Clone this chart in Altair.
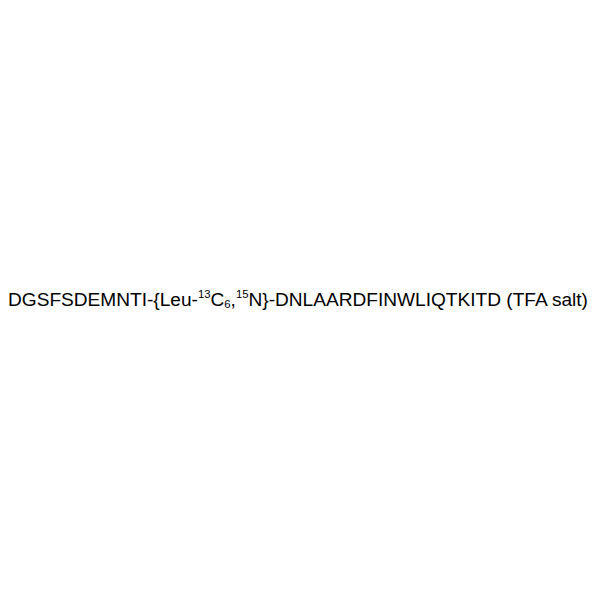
import altair as alt
import pandas as pd

# Text segments of the label: (text, role) where role is main / sup / sub
segments = ["DGSFSDEMNTI-{Leu-", "13", "C", "6", ",", "15", "N}-DNLAARDFINWLIQTKITD (TFA salt)"]
roles = ["main", "sup", "main", "sub", "main", "sup", "main"]

MAIN_SIZE = 19.1
SMALL_SIZE = 11.3
BASELINE = 305.7 - 8          # page y -> chart y
SHIFT = {"main": 0.0, "sup": -7.5, "sub": 2.0}
START_X = 0.0

# Arial / Liberation Sans advance widths (per 1000 em)
W = {"D": 722, "G": 778, "S": 667, "F": 611, "E": 667, "M": 833, "N": 722, "T": 611,
     "I": 278, "-": 333, "{": 334, "}": 334, "L": 556, "e": 556, "u": 556, "C": 722,
     ",": 278, "A": 667, "R": 722, "W": 944, "Q": 778, "K": 667, " ": 278, "(": 333,
     ")": 333, "s": 500, "a": 556, "l": 222, "t": 278, "1": 556, "3": 556, "5": 556, "6": 556}

def size_of(role):
    return MAIN_SIZE if role == "main" else SMALL_SIZE

widths = [sum(W[c] for c in seg) / 1000 * size_of(r) for seg, r in zip(segments, roles)]
xs, cur = [], START_X
for w in widths:
    xs.append(cur)
    cur += w

df = pd.DataFrame({
    "text": segments,
    "x": xs,
    "y": [BASELINE + SHIFT[r] for r in roles],
    "size": [size_of(r) for r in roles],
})

chart = alt.Chart(df).mark_text(
    font="Liberation Sans", color="#000000", align="left", baseline="alphabetic"
).encode(
    x=alt.X("x:Q", scale=None, axis=None),
    y=alt.Y("y:Q", scale=None, axis=None),
    size=alt.Size("size:Q", scale=None, legend=None),
    text="text:N",
).properties(width=584, height=584, padding=0, autosize="none").configure_view(stroke=None)

chart.save("out.html", embed_options={"renderer": "svg", "actions": False})
